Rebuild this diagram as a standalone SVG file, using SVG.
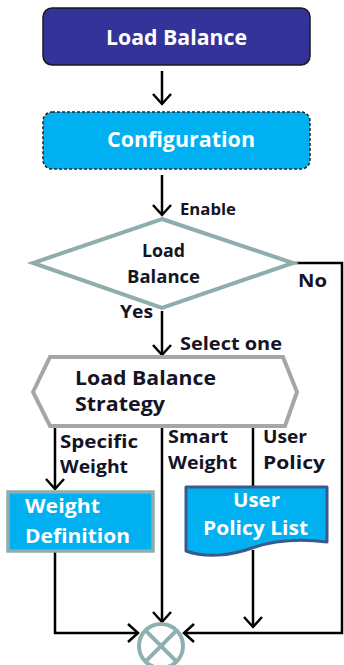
<svg xmlns="http://www.w3.org/2000/svg" width="344" height="665" viewBox="0 0 344 665">
<defs>
<style>
.t{font-family:"Open Sans","Liberation Sans",sans-serif;font-weight:bold}
.w{fill:#ffffff;font-size:21px}
.b{fill:#141426;font-size:18px}
.ln{fill:none;stroke:#000;stroke-width:2.5}
</style>
<marker id="ah" markerUnits="userSpaceOnUse" markerWidth="24" markerHeight="24" refX="0" refY="0" orient="auto" overflow="visible">
<path d="M-10,-9 L0,0 L-10,9" fill="none" stroke="#000" stroke-width="2.5" stroke-linejoin="miter"/>
</marker>
</defs>
<rect width="344" height="665" fill="#ffffff"/>
<g id="connectors">
<line class="ln" x1="162" y1="71" x2="162" y2="104" marker-end="url(#ah)"/>
<line class="ln" x1="162" y1="175" x2="162" y2="215" marker-end="url(#ah)"/>
<polyline class="ln" points="293,263 342,263 342,633 184,633" marker-end="url(#ah)"/>
<line class="ln" x1="162" y1="311" x2="162" y2="355" marker-end="url(#ah)"/>
<line class="ln" x1="55" y1="427" x2="55" y2="489" marker-end="url(#ah)"/>
<line class="ln" x1="162" y1="427" x2="162" y2="622" marker-end="url(#ah)"/>
<line class="ln" x1="253" y1="427" x2="253" y2="487"/>
<polyline class="ln" points="55,551 55,633 138,633" marker-end="url(#ah)"/>
<line class="ln" x1="253" y1="550" x2="253" y2="627" marker-end="url(#ah)"/>
<text class="t b" x="180" y="215" textLength="56" lengthAdjust="spacingAndGlyphs" style="font-size:16px">Enable</text>
<text class="t b" x="298" y="287" textLength="29" lengthAdjust="spacingAndGlyphs">No</text>
<text class="t b" x="120" y="318" textLength="33" lengthAdjust="spacingAndGlyphs">Yes</text>
<text class="t b" x="180" y="350" textLength="102" lengthAdjust="spacingAndGlyphs">Select one</text>
<text class="t b" x="60" y="448" textLength="78" lengthAdjust="spacingAndGlyphs">Specific</text>
<text class="t b" x="60" y="473" textLength="68" lengthAdjust="spacingAndGlyphs">Weight</text>
<text class="t b" x="168" y="443" textLength="60" lengthAdjust="spacingAndGlyphs">Smart</text>
<text class="t b" x="168" y="469" textLength="69" lengthAdjust="spacingAndGlyphs">Weight</text>
<text class="t b" x="263" y="443" textLength="44" lengthAdjust="spacingAndGlyphs">User</text>
<text class="t b" x="263" y="469" textLength="62" lengthAdjust="spacingAndGlyphs">Policy</text>
</g>
<g id="node-load-balance">
<rect x="43" y="8" width="267" height="57" rx="9" fill="#333399" stroke="#1a1a1a" stroke-width="1.5"/>
<text class="t w" x="106" y="45" textLength="141" lengthAdjust="spacingAndGlyphs">Load Balance</text>
</g>
<g id="node-configuration">
<rect x="43" y="112" width="267" height="57" rx="9" fill="#00B0F0" stroke="#222" stroke-width="1.5" stroke-dasharray="3,2"/>
<text class="t w" x="107" y="147" textLength="148" lengthAdjust="spacingAndGlyphs">Configuration</text>
</g>
<g id="node-decision">
<polygon points="162,219 293,263 162,308 33,263" fill="#ffffff" stroke="#8fadad" stroke-width="4"/>
<text class="t b" x="142" y="257" textLength="43" lengthAdjust="spacingAndGlyphs">Load</text>
<text class="t b" x="127" y="283" textLength="73" lengthAdjust="spacingAndGlyphs">Balance</text>
</g>
<g id="node-strategy">
<polygon points="33,392 50,357 283,357 297,392 285,426 50,426" fill="#ffffff" stroke="#a6a6a6" stroke-width="4"/>
<text class="t b" x="75" y="385" textLength="141" lengthAdjust="spacingAndGlyphs" style="font-size:19px">Load Balance</text>
<text class="t b" x="75" y="411" textLength="90" lengthAdjust="spacingAndGlyphs" style="font-size:19px">Strategy</text>
</g>
<g id="node-weight-definition">
<rect x="8" y="492" width="145" height="59" fill="#00B0F0" stroke="#8fadad" stroke-width="3.5"/>
<text class="t w" x="25" y="513" textLength="75" lengthAdjust="spacingAndGlyphs" style="font-size:19px">Weight</text>
<text class="t w" x="25" y="543" textLength="105" lengthAdjust="spacingAndGlyphs" style="font-size:19px">Definition</text>
</g>
<g id="node-user-policy-list">
<path d="M186,487 H327 V542 C303,539 275,540 252,548 C230,556 205,558 186,551 Z" fill="#00B0F0" stroke="#3a5a8c" stroke-width="3" stroke-linejoin="round"/>
<text class="t w" x="233" y="507" textLength="47" lengthAdjust="spacingAndGlyphs" style="font-size:19px">User</text>
<text class="t w" x="203" y="535" textLength="105" lengthAdjust="spacingAndGlyphs" style="font-size:19px">Policy List</text>
</g>
<g id="node-merge">
<circle cx="161" cy="646" r="22" fill="#ffffff" stroke="#8fb0b0" stroke-width="4"/>
<line x1="145.4" y1="630.4" x2="176.6" y2="661.6" stroke="#8fb0b0" stroke-width="4"/>
<line x1="176.6" y1="630.4" x2="145.4" y2="661.6" stroke="#8fb0b0" stroke-width="4"/>
</g>
</svg>
